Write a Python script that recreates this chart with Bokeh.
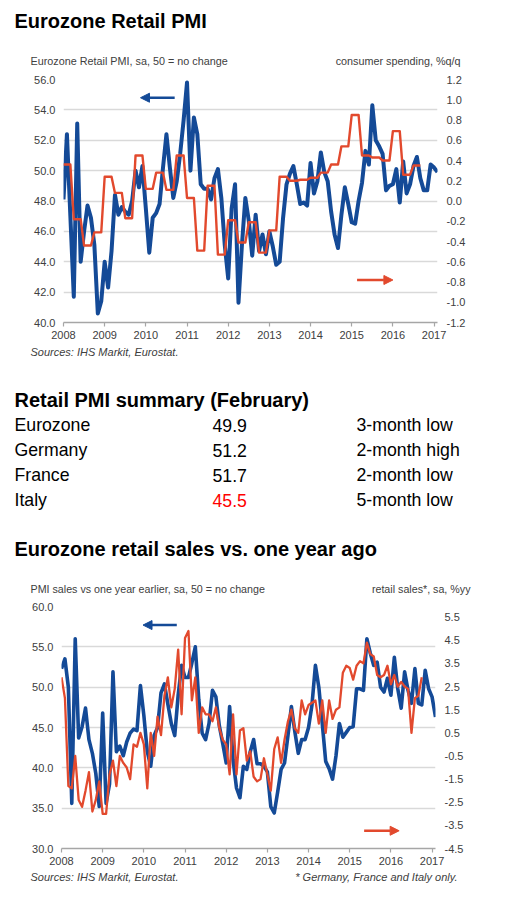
import numpy as np
from bokeh.plotting import figure
from bokeh.models import (Range1d, LinearAxis, FixedTicker, NumeralTickFormatter,
                          Arrow, NormalHead)
from bokeh.embed import file_html
from bokeh.resources import INLINE
from bokeh.core.properties import value

FONT = "Liberation Sans"
BLUE = "#144a97"
RED = "#e2492d"
TXT = "#404040"
GRID = "#d9d9d9"
AXIS = "#a6a6a6"
W = 509

# ---------------- data ----------------
START_YEAR = 2008  # first month: January 2008

# Chart 1: Eurozone Retail PMI (monthly, Jan 2008 - Feb 2017)
retail_pmi = [
    48.1, 52.4, 47.0, 41.7, 53.1, 44.0, 46.0, 47.7, 46.9, 45.1, 40.6, 41.4,
    44.0, 42.3, 44.7, 48.4, 47.1, 47.6, 47.3, 47.1, 48.0, 50.0, 48.9, 50.3,
    47.5, 44.6, 46.9, 47.2, 47.8, 50.2, 52.4, 50.2, 48.2, 49.3, 51.1, 53.3,
    55.8, 50.0, 53.5, 52.4, 49.1, 48.8, 48.8, 48.1, 49.5, 50.1, 48.2, 45.1,
    42.9, 47.5, 49.1, 41.3, 45.1, 48.2, 46.7, 44.4, 47.1, 44.7, 45.8, 44.5,
    46.0, 45.0, 43.8, 44.0, 46.9, 49.1, 49.8, 50.3, 49.1, 47.8, 47.9, 47.7,
    50.5, 48.5, 49.3, 51.2, 49.9, 49.3, 47.3, 45.8, 44.9, 47.1, 48.9, 47.8,
    46.6, 46.5, 48.0, 49.2, 51.3, 50.4, 54.3, 52.0, 51.6, 51.1, 48.7, 49.0,
    49.1, 50.1, 47.9, 50.6, 48.5, 49.1, 50.3, 50.9, 49.5, 48.7, 48.7, 50.4,
    50.2, 49.9,
]
# Consumer spending %q/q, quarterly 2008Q1 - 2016Q3
consumer_spending_qq = [
    0.36, -0.18, -0.44, -0.31,
    0.24, 0.08, -0.17, 0.45,
    0.12, 0.28, 0.11, 0.45,
    0.03, -0.49, 0.15, -0.53,
    -0.19, -0.41, -0.21, -0.51,
    -0.29, 0.24, 0.20, 0.21,
    0.23, 0.28, 0.36, 0.54,
    0.85, 0.45, 0.43, 0.40,
    0.69, 0.26, 0.35,
]

# Chart 2: PMI sales vs one year earlier (monthly, Jan 2008 - Feb 2017)
pmi_sales_yoy = [
    52.3, 53.5, 50.0, 35.6, 56.0, 43.7, 45.1, 47.4, 43.5, 41.8, 39.3, 35.2,
    46.8, 35.6, 38.0, 51.9, 42.0, 42.7, 41.5, 43.2, 44.3, 44.8, 44.6, 50.2,
    46.5, 42.0, 40.2, 44.0, 45.0, 49.3, 50.4, 47.9, 45.5, 44.0, 49.0, 52.7,
    51.2, 51.2, 53.0, 55.0, 48.5, 44.3, 43.5, 45.5, 49.6, 48.8, 45.2, 43.0,
    40.6, 47.6, 41.0, 37.5, 36.3, 40.2, 39.8, 42.0, 43.5, 40.5, 40.5, 40.2,
    39.5, 35.2, 34.4, 37.0, 39.8, 40.6, 44.0, 47.6, 44.5, 41.8, 43.5, 43.5,
    45.0, 47.8, 52.7, 50.0, 45.5, 40.8, 39.9, 38.6, 41.5, 45.5, 43.8, 44.4,
    45.0, 45.1, 49.8, 49.8, 49.6, 56.0, 54.2, 52.7, 53.1, 50.0, 49.4, 51.1,
    49.0, 53.7, 49.8, 47.4, 51.9, 49.6, 48.0, 52.3, 48.0, 47.8, 52.1, 49.8,
    48.8, 46.3,
]
# Retail sales (Germany, France, Italy) %yy, monthly Jan 2008 - Oct 2016
retail_sales_yy = [
    2.9, 2.0, -1.8, -1.9, -0.5, -2.4, -2.7, -2.0, -1.2, -2.9, -2.4, -1.6,
    -3.0, -3.0, -1.3, -0.7, -1.8, -0.5, -0.8, -1.0, -1.5, 0.0, -0.1, 0.5,
    0.0, -1.9, 0.5, -0.5, 1.2, 0.4, 2.1, 2.9, 1.6, 2.4, 4.1, 1.3,
    4.6, 4.9, 1.9, 2.9, 0.5, 1.6, 1.3, 1.3, 1.0, 1.6, 0.7, 0.2,
    0.0, -1.3, 1.3, -1.3, 0.6, 0.7, -0.7, -0.3, -1.4, -1.6, -1.5, -0.6,
    -1.3, -2.0, -0.2, 0.3, -0.8, 0.2, 1.0, 1.5, 0.7, 0.5, 1.9, 1.3,
    1.7, 1.8, 1.9, 0.9, 1.9, 0.5, 1.9, 1.1, 1.5, 1.6, 3.1, 3.4,
    3.3, 2.8, 3.4, 3.6, 3.5, 4.4, 3.9, 3.8, 3.0, 2.9, 3.0, 3.4,
    2.6, 3.0, 2.5, 2.7, 2.5, 2.4, 0.5, 2.0, 2.1, 2.9,
]

year_ticks = list(range(2008, 2018))
left_ticks_1 = [40, 42, 44, 46, 48, 50, 52, 54, 56]
right_ticks_1 = [-1.2, -1.0, -0.8, -0.6, -0.4, -0.2, 0.0, 0.2, 0.4, 0.6, 0.8, 1.0, 1.2]
left_ticks_2 = [30, 35, 40, 45, 50, 55, 60]
right_ticks_2 = [-4.5, -3.5, -2.5, -1.5, -0.5, 0.5, 1.5, 2.5, 3.5, 4.5, 5.5]
right_range_2 = (-4.5, 5.96)

chart1_title = "Eurozone Retail PMI"
chart1_left_title = "Eurozone Retail PMI, sa, 50 = no change"
chart1_right_title = "consumer spending, %q/q"
chart2_title = "Eurozone retail sales vs. one year ago"
chart2_left_title = "PMI sales vs one year earlier, sa, 50 = no change"
chart2_right_title = "retail sales*, sa, %yy"
sources_text = "Sources: IHS Markit, Eurostat."
footnote_text = "* Germany, France and Italy only."

summary_title = "Retail PMI summary (February)"
summary_countries = ["Eurozone", "Germany", "France", "Italy"]
summary_values = ["49.9", "51.2", "51.7", "45.5"]
summary_notes = ["3-month low", "2-month high", "2-month low", "5-month low"]
summary_highlight = "Italy"


def monthly_x(n):
    return [START_YEAR + i / 12.0 for i in range(n)]


def text_fig(height):
    f = figure(width=W, height=height, output_backend="svg", toolbar_location=None,
               x_range=Range1d(0, W), y_range=Range1d(height, 0),
               x_axis_location=None, y_axis_location=None, min_border=0)
    f.outline_line_color = None
    f.grid.visible = False
    return f


def put(f, xs, ys, texts, size, style="normal", align="left", color=TXT):
    f.text(x=xs, y=ys, text=texts, text_font=value(FONT), text_font_size=value(size),
           text_font_style=style, text_align=align, text_baseline="middle",
           text_color=color)


def make_chart(height, bl, br, bt, bb, yl, yr, lt, rt):
    n = len(retail_pmi)
    p = figure(width=W, height=height, output_backend="svg", toolbar_location=None,
               x_range=Range1d(START_YEAR, START_YEAR + (n - 1) / 12.0),
               y_range=Range1d(*yl),
               min_border_left=bl, min_border_right=br,
               min_border_top=bt, min_border_bottom=bb)
    p.extra_y_ranges = {"r": Range1d(*yr)}
    p.outline_line_color = None
    p.xgrid.visible = False
    p.ygrid.ticker = FixedTicker(ticks=lt)
    p.ygrid.grid_line_color = GRID
    p.ygrid.grid_line_width = 1.6

    for ax in p.yaxis:
        ax.ticker = FixedTicker(ticks=lt)
        ax.formatter = NumeralTickFormatter(format="0.0")
        ax.axis_line_color = None
        ax.major_tick_line_color = None
        ax.minor_tick_line_color = None
        ax.major_tick_out = 0
        ax.major_tick_in = 0
        ax.major_label_standoff = 8
        ax.major_label_text_font = FONT
        ax.major_label_text_font_size = "11px"
        ax.major_label_text_color = TXT

    for ax in p.xaxis:
        ax.ticker = FixedTicker(ticks=year_ticks)
        ax.axis_line_color = AXIS
        ax.axis_line_width = 1.6
        ax.major_tick_line_color = AXIS
        ax.major_tick_line_width = 1.2
        ax.minor_tick_line_color = None
        ax.major_tick_out = 4
        ax.major_tick_in = 0
        ax.major_label_standoff = 4
        ax.major_label_text_font = FONT
        ax.major_label_text_font_size = "11px"
        ax.major_label_text_color = TXT

    rax = LinearAxis(y_range_name="r", ticker=FixedTicker(ticks=rt),
                     formatter=NumeralTickFormatter(format="0.0"))
    rax.axis_line_color = None
    rax.major_tick_line_color = None
    rax.minor_tick_line_color = None
    rax.major_tick_out = 0
    rax.major_tick_in = 0
    rax.major_label_standoff = 9
    rax.major_label_text_font = FONT
    rax.major_label_text_font_size = "11px"
    rax.major_label_text_color = TXT
    p.add_layout(rax, "right")
    return p


# ---------------- header of chart 1 (page y 0-72) ----------------
h1 = text_fig(72)
put(h1, [14], [20], [chart1_title], "20px", "bold", color="black")
put(h1, [30], [60.5], [chart1_left_title], "10.8px")
put(h1, [460], [60.5], [chart1_right_title], "10.8px", align="right")

# ---------------- chart 1 (page y 72-344) ----------------
p1 = make_chart(272, 63, W - 437, 7, 22, (40, 56), (-1.2, 1.2), left_ticks_1, right_ticks_1)
p1.line(monthly_x(len(retail_pmi)), retail_pmi, line_color=BLUE, line_width=4,
        line_join="round")
spend_monthly = np.repeat(consumer_spending_qq, 3)
p1.line(monthly_x(len(spend_monthly)), spend_monthly, y_range_name="r",
        line_color=RED, line_width=2.4, line_join="round")
p1.add_layout(Arrow(x_start=2010.7, y_start=54.8, x_end=2009.87, y_end=54.8,
                    line_color=BLUE, line_width=2.5,
                    end=NormalHead(size=9, fill_color=BLUE, line_color=BLUE)))
p1.add_layout(Arrow(x_start=2015.13, y_start=42.8, x_end=2016.0, y_end=42.8,
                    line_color=RED, line_width=2.5,
                    end=NormalHead(size=9, fill_color=RED, line_color=RED)))

# ---------------- sources, summary table, header of chart 2 (page y 344-600) ----------------
t = text_fig(256)
put(t, [30], [7], [sources_text], "11px", "italic")
put(t, [14], [55.2], [summary_title], "20px", "bold", color="black")
row_y = [80.7 + 25 * i for i in range(len(summary_countries))]
val_colors = ["#ff0000" if c == summary_highlight else "black" for c in summary_countries]
put(t, [14] * len(row_y), row_y, summary_countries, "17.7px", color="black")
put(t, [212] * len(row_y), row_y, summary_values, "17.7px", color=val_colors)
put(t, [356] * len(row_y), row_y, summary_notes, "17.7px", color="black")
put(t, [14], [204], [chart2_title], "20px", "bold", color="black")
put(t, [30], [244.3], [chart2_left_title], "10.7px")
put(t, [470], [244.3], [chart2_right_title], "10.7px", align="right")

# ---------------- chart 2 (page y 600-870) ----------------
p2 = make_chart(270, 61, W - 435, 6, 22, (30, 60), right_range_2, left_ticks_2, right_ticks_2)
p2.line(monthly_x(len(pmi_sales_yoy)), pmi_sales_yoy, line_color=BLUE, line_width=3.6,
        line_join="round")
p2.line(monthly_x(len(retail_sales_yy)), retail_sales_yy, y_range_name="r",
        line_color=RED, line_width=2.3, line_join="round")
p2.add_layout(Arrow(x_start=2010.8, y_start=57.7, x_end=2009.98, y_end=57.7,
                    line_color=BLUE, line_width=2.5,
                    end=NormalHead(size=9, fill_color=BLUE, line_color=BLUE)))
p2.add_layout(Arrow(x_start=2015.35, y_start=32.2, x_end=2016.2, y_end=32.2,
                    line_color=RED, line_width=2.5,
                    end=NormalHead(size=9, fill_color=RED, line_color=RED)))

# ---------------- footer of chart 2 (page y 870-890) ----------------
f2 = text_fig(20)
put(f2, [30], [6.7], [sources_text], "11px", "italic")
put(f2, [457], [6.7], [footnote_text], "11px", "italic", align="right")

open("out.html", "w").write(file_html([h1, p1, t, p2, f2], INLINE))
